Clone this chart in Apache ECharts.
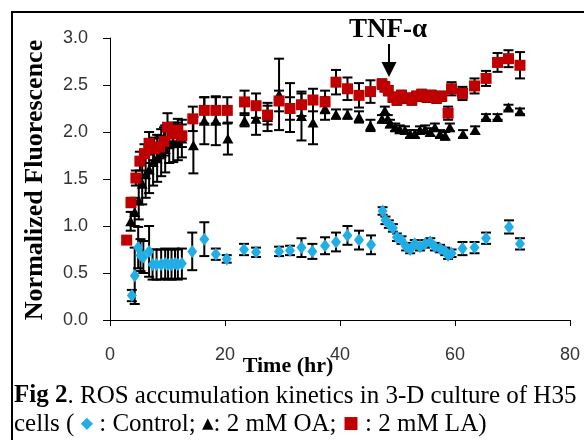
<!DOCTYPE html>
<html><head><meta charset="utf-8">
<script src="https://cdn.jsdelivr.net/npm/echarts@6/dist/echarts.min.js"></script>
<style>html,body{margin:0;padding:0;background:#fff}#c{width:584px;height:440px}</style>
</head><body><div id="c"></div>
<script>
// ---- data ----
const xTicks = [0, 20, 40, 60, 80];
const yTicks = [0, 0.5, 1, 1.5, 2, 2.5, 3];

const ctrlT = [3.8,4.3,4.9,5.3,5.8,6.8, 7.4,8.1,8.9,9.6,10.1,10.7,11.3,11.8,12.5, 14.3,16.4,18.4,20.3,23.3,25.4,29.4,31.3,33.3,35.2,37.4,39.3,41.3,43.3,45.4, 47.4,47.9,48.5,49.2,49.9,50.7,51.5,52.2,53.0,53.9,54.8,55.7,56.5,57.4,58.3,58.8,59.4, 61.3,63.4,65.4,69.4,71.3];
const ctrlV = [0.26,0.47,0.77,0.69,0.67,0.73, 0.59,0.59,0.59,0.60,0.59,0.59,0.60,0.59,0.60, 0.73,0.86,0.70,0.65,0.75,0.72,0.73,0.74,0.77,0.73,0.79,0.83,0.90,0.85,0.80, 1.16,1.06,1.02,0.98,0.88,0.85,0.78,0.75,0.81,0.78,0.81,0.83,0.78,0.76,0.73,0.69,0.71, 0.76,0.77,0.87,0.99,0.81];
const ctrlE = [0.06,0.3,0.22,0.17,0.17,0.27, 0.16,0.16,0.16,0.16,0.16,0.16,0.16,0.16,0.16, 0.2,0.18,0.06,0.04,0.06,0.05,0.05,0.05,0.1,0.08,0.09,0.1,0.1,0.1,0.1, 0.04,0.04,0.04,0.04,0.04,0.04,0.04,0.04,0.04,0.04,0.04,0.04,0.04,0.04,0.04,0.04,0.04, 0.07,0.06,0.06,0.07,0.06];

const oaT = [3.6,4.3,5.0,5.6,6.2,6.8,7.5,8.2,8.9,9.6,10.3,11.0,11.8,12.5, 14.5,16.4,18.4,20.5,23.4,25.4,27.4,29.4,31.3,33.3,35.3,37.4,39.3,41.3,43.3,45.3, 47.3,47.8,48.3,48.7,49.6,50.4,51.3,52.2,53.0,53.9,54.8,55.7,56.5,57.4,58.3,59.1, 61.4,63.5,65.4,67.4,69.3,71.3];
const oaV = [1.05,1.15,1.27,1.45,1.55,1.60,1.68,1.72,1.78,1.82,1.87,1.88,1.90,1.93, 1.86,2.12,2.12,1.93,2.12,2.14,2.16,2.40,2.26,2.17,2.10,2.25,2.19,2.19,2.16,2.07, 2.14,2.23,2.14,2.09,2.05,2.03,2.02,1.98,1.98,2.02,2.03,2.00,2.05,1.98,1.96,2.05, 1.98,2.02,2.16,2.16,2.26,2.22];
const oaE = [0.1,0.15,0.2,0.22,0.25,0.25,0.25,0.25,0.25,0.25,0.2,0.2,0.2,0.2, 0.3,0.25,0.26,0.17,0.06,0.17,0.15,0.38,0.26,0.26,0.23,0.12,0.05,0.05,0.06,0.06, 0.04,0.04,0.04,0.04,0.04,0.04,0.04,0.04,0.04,0.04,0.04,0.04,0.04,0.04,0.04,0.04, 0.04,0.04,0.03,0.03,0.03,0.03];

const laT = [2.9,3.65,4.5,5.2,6.0,6.8,7.7,8.6,9.4,10.0,10.9,11.8,12.5, 14.4,16.4,18.4,20.4,23.4,25.4,27.4,29.4,31.3,33.3,35.3,37.4,39.3,41.3,43.3,45.3, 47.3,47.8,48.4,49.2,49.9,50.7,51.6,52.5,53.3,54.2,55.1,55.9,56.8,57.7, 58.8,59.4,61.3,63.4,65.4,67.4,69.3,71.3];
const laV = [0.85,1.25,1.51,1.69,1.77,1.88,1.82,1.84,1.90,2.05,1.98,2.02,1.96, 2.14,2.23,2.23,2.23,2.32,2.28,2.18,2.33,2.25,2.29,2.34,2.32,2.53,2.46,2.39,2.43, 2.51,2.48,2.44,2.37,2.34,2.39,2.36,2.34,2.38,2.40,2.37,2.39,2.36,2.38, 2.20,2.46,2.41,2.49,2.57,2.74,2.78,2.71];
const laE = [0.03,0.05,0.08,0.1,0.1,0.12,0.12,0.12,0.15,0.15,0.12,0.12,0.12, 0.13,0.14,0.14,0.14,0.12,0.13,0.1,0.11,0.12,0.12,0.12,0.12,0.13,0.12,0.13,0.12, 0.05,0.05,0.05,0.05,0.05,0.05,0.05,0.05,0.05,0.05,0.05,0.05,0.05,0.05, 0.07,0.07,0.07,0.08,0.08,0.1,0.09,0.14];

const serifFont = '"Liberation Serif", "Times New Roman", serif';
const sansFont = '"Liberation Sans", Arial, sans-serif';
const RED = '#c00000', BLUE = '#21aee6', BLACK = '#000';

function pts(t, v) { return t.map((x, i) => [x, v[i]]); }
function errs(t, v, e) { return t.map((x, i) => [x, v[i] - e[i], v[i] + e[i]]); }

function errSeries(data, z) {
  return {
    type: 'custom', z: z, silent: true,
    data: data,
    encode: { x: 0, y: [1, 2] },
    renderItem: function (params, api) {
      const x = api.value(0);
      const lo = api.coord([x, api.value(1)]);
      const hi = api.coord([x, api.value(2)]);
      const w = 5;
      const st = { stroke: '#000', lineWidth: 2 };
      return {
        type: 'group',
        children: [
          { type: 'line', shape: { x1: lo[0], y1: lo[1], x2: hi[0], y2: hi[1] }, style: st },
          { type: 'line', shape: { x1: lo[0] - w, y1: lo[1], x2: lo[0] + w, y2: lo[1] }, style: st },
          { type: 'line', shape: { x1: hi[0] - w, y1: hi[1], x2: hi[0] + w, y2: hi[1] }, style: st }
        ]
      };
    }
  };
}

const chart = echarts.init(document.getElementById('c'), null, { renderer: 'canvas' });
chart.setOption({
  animation: false,
  backgroundColor: '#fff',
  grid: { left: 110, right: 14, top: 38, bottom: 120, containLabel: false },
  xAxis: {
    type: 'value', min: xTicks[0], max: xTicks[xTicks.length - 1], interval: 20,
    axisLine: { lineStyle: { color: '#000', width: 1 } },
    axisTick: { show: true, length: 6, lineStyle: { color: '#000' } },
    splitLine: { show: false },
    axisLabel: { margin: 26, color: '#333', fontFamily: sansFont, fontSize: 18 }
  },
  yAxis: {
    type: 'value', min: yTicks[0], max: yTicks[yTicks.length - 1], interval: 0.5,
    axisLine: { show: true, lineStyle: { color: '#000', width: 1 } },
    axisTick: { show: true, length: 7, lineStyle: { color: '#000' } },
    splitLine: { show: false },
    axisLabel: { margin: 22, color: '#333', fontFamily: sansFont, fontSize: 18,
      formatter: v => v.toFixed(1) }
  },
  series: [
    errSeries(errs(ctrlT, ctrlV, ctrlE), 2),
    { type: 'scatter', z: 3, data: pts(ctrlT, ctrlV), symbol: 'diamond', symbolSize: [10, 13],
      itemStyle: { color: BLUE, opacity: 1 } },
    errSeries(errs(oaT, oaV, oaE), 4),
    { type: 'scatter', z: 5, data: pts(oaT, oaV), symbol: 'triangle', symbolSize: [11, 10],
      itemStyle: { color: BLACK, opacity: 1 } },
    errSeries(errs(laT, laV, laE), 6),
    { type: 'scatter', z: 7, data: pts(laT, laV), symbol: 'rect', symbolSize: 11,
      itemStyle: { color: RED, opacity: 1 } }
  ],
  graphic: [
    { type: 'rect', z: 100, shape: { x: 12, y: 12, width: 600, height: 460 },
      style: { fill: 'none', stroke: '#000', lineWidth: 2 } },
    { type: 'text', z: 100, x: 35, y: 180, rotation: Math.PI / 2,
      style: { text: 'Normalized Fluorescence', font: 'bold 26px ' + serifFont,
        fill: '#000', textAlign: 'center', textVerticalAlign: 'middle' } },
    { type: 'text', z: 100, x: 288, y: 366,
      style: { text: 'Time (hr)', font: 'bold 22px ' + serifFont,
        fill: '#000', textAlign: 'center', textVerticalAlign: 'middle' } },
    { type: 'text', z: 100, x: 388, y: 30,
      style: { text: 'TNF-α', font: 'bold 27px ' + serifFont,
        fill: '#000', textAlign: 'center', textVerticalAlign: 'middle' } },
    { type: 'line', z: 100, shape: { x1: 389, y1: 44, x2: 389, y2: 63 },
      style: { stroke: '#000', lineWidth: 2 } },
    { type: 'polygon', z: 100, shape: { points: [[381.5, 62], [396.5, 62], [389, 77]] },
      style: { fill: '#000' } },
    { type: 'text', z: 100, x: 14, y: 396,
      style: {
        text: '{b|Fig 2}. ROS accumulation kinetics in 3-D culture of H35',
        font: '25px ' + serifFont, fill: '#000', textAlign: 'left', textVerticalAlign: 'middle',
        rich: { b: { fontWeight: 'bold', fontFamily: serifFont, fontSize: 25 } }
      } },
    { type: 'text', z: 100, x: 14, y: 424,
      style: {
        text: 'cells ( {d|◆} : Control; {t|▲}: 2 mM OA; {s|■} : 2 mM LA)',
        font: '25px ' + serifFont, fill: '#000', textAlign: 'left', textVerticalAlign: 'middle',
        rich: {
          d: { fill: BLUE, fontSize: 16, fontFamily: '"DejaVu Sans"' },
          t: { fill: '#000', fontSize: 15, fontFamily: '"DejaVu Sans"' },
          s: { fill: RED, fontSize: 17, fontFamily: '"DejaVu Sans"' }
        }
      } }
  ]
});
</script>
</body></html>
